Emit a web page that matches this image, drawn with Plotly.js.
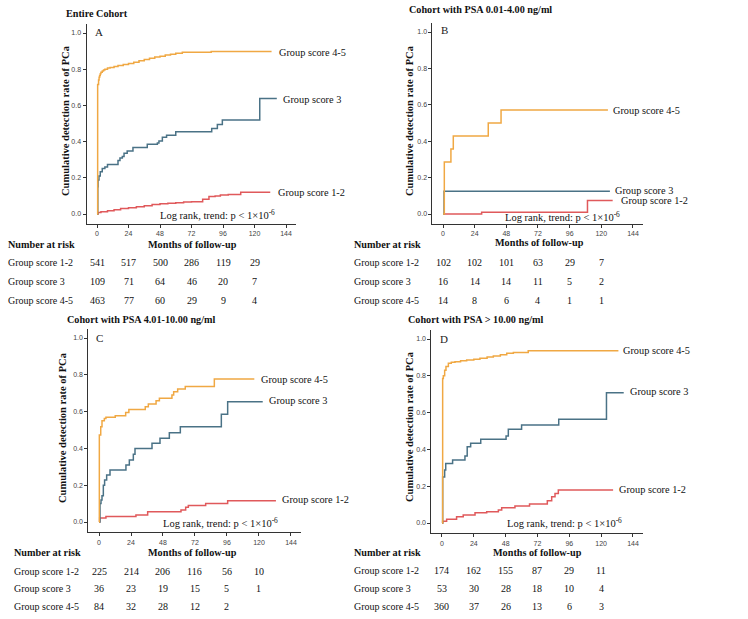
<!DOCTYPE html>
<html>
<head>
<meta charset="utf-8">
<script src="https://cdn.plot.ly/plotly-3.0.1.min.js"></script>
<style>html,body{margin:0;padding:0;background:#fff;}#chart{width:748px;height:619px;}</style>
</head>
<body>
<div id="chart"></div>
<script>
// ---------- DATA ----------
const groups = ['Group score 1-2', 'Group score 3', 'Group score 4-5'];
const riskTimes = [0, 24, 48, 72, 96, 120];
const xTicks = [0, 24, 48, 72, 96, 120, 144];
const yTicks = [0, 0.2, 0.4, 0.6, 0.8, 1.0];
const panelTitles = ['Entire Cohort', 'Cohort with PSA 0.01-4.00 ng/ml', 'Cohort with PSA 4.01-10.00 ng/ml', 'Cohort with PSA > 10.00 ng/ml'];
const panelLetters = ['A', 'B', 'C', 'D'];

// Panel A (entire cohort)
const A_g12_t = [0, 0.8, 3, 8, 13, 18, 24, 30, 36, 42, 48, 54, 60, 66, 72, 80.5, 85.3, 90, 94, 100, 109.5, 132];
const A_g12_p = [0, 0.008, 0.012, 0.018, 0.024, 0.03, 0.035, 0.04, 0.046, 0.052, 0.056, 0.059, 0.062, 0.066, 0.068, 0.081, 0.096, 0.1, 0.105, 0.108, 0.12, 0.12];
const A_g3_t = [0, 0.6, 0.8, 1.5, 2.5, 4, 6, 8, 16, 17.5, 19.3, 20.6, 23, 27.4, 38.3, 46, 47.2, 49.8, 53, 60, 87.4, 91.7, 95.5, 124, 137];
const A_g3_p = [0, 0.15, 0.188, 0.21, 0.234, 0.252, 0.26, 0.274, 0.295, 0.31, 0.317, 0.335, 0.348, 0.368, 0.385, 0.392, 0.403, 0.424, 0.435, 0.455, 0.473, 0.494, 0.519, 0.638, 0.638];
const A_g45_t = [0, 0.5, 1.2, 1.6, 2, 2.5, 3, 4, 5, 6, 8, 10, 13, 16, 20, 24, 28, 32, 36, 40, 44, 48, 52, 56, 60, 65, 87, 133];
const A_g45_p = [0, 0.716, 0.74, 0.755, 0.765, 0.775, 0.783, 0.79, 0.796, 0.8, 0.806, 0.81, 0.815, 0.82, 0.826, 0.832, 0.838, 0.846, 0.853, 0.861, 0.867, 0.872, 0.878, 0.883, 0.888, 0.894, 0.898, 0.898];

// Panel B (PSA 0.01-4.00)
const B_g12_t = [0.8, 29.3, 109.5, 128.6];
const B_g12_p = [0, 0.0098, 0.074, 0.074];
const B_g3_t = [0, 0.8, 126.5];
const B_g3_p = [0, 0.125, 0.125];
const B_g45_t = [0, 1, 6, 7.8, 34.3, 44, 125];
const B_g45_p = [0, 0.286, 0.357, 0.429, 0.5, 0.571, 0.571];

// Panel C (PSA 4.01-10.00)
const C_g12_t = [0, 0.5, 5.2, 27.7, 36.5, 61.5, 65, 67, 80, 96.5, 132.7];
const C_g12_p = [0, 0.022, 0.03, 0.038, 0.056, 0.065, 0.08, 0.089, 0.1, 0.116, 0.116];
const C_g3_t = [0, 0.75, 1.5, 2.25, 3.25, 4.2, 5.75, 8.25, 20.2, 22.75, 25.75, 27, 39.75, 45.75, 52.75, 61, 91.75, 96.5, 122.8];
const C_g3_p = [0, 0.1, 0.12, 0.143, 0.2, 0.228, 0.255, 0.283, 0.31, 0.337, 0.368, 0.4, 0.428, 0.455, 0.485, 0.518, 0.585, 0.654, 0.654];
const C_g45_t = [0, 0.25, 1.3, 2.25, 4, 5.2, 12.2, 20, 22.4, 34.7, 37, 42.8, 45.3, 54.7, 56, 59, 64.7, 86.5, 116.5];
const C_g45_p = [0, 0.473, 0.518, 0.55, 0.563, 0.569, 0.578, 0.595, 0.612, 0.627, 0.641, 0.659, 0.672, 0.69, 0.708, 0.723, 0.737, 0.777, 0.777];

// Panel D (PSA > 10.00)
const D_g12_t = [0, 0.5, 3.5, 11, 16, 24.9, 33.7, 42.5, 45, 55, 66, 79.4, 82.7, 85.2, 87.7, 129];
const D_g12_p = [0, 0.01, 0.02, 0.034, 0.043, 0.056, 0.061, 0.07, 0.083, 0.092, 0.103, 0.121, 0.143, 0.161, 0.179, 0.179];
const D_g3_t = [0, 0.5, 2, 2.8, 8, 17.3, 19, 21.6, 29.2, 48.3, 50, 60, 88, 124, 137];
const D_g3_p = [0, 0.25, 0.288, 0.324, 0.342, 0.364, 0.415, 0.433, 0.455, 0.473, 0.509, 0.533, 0.564, 0.708, 0.708];
const D_g45_t = [0, 0.5, 1, 2, 3, 4.8, 7, 9.8, 14, 18.6, 24, 28.6, 34, 38.7, 44, 48.8, 53.8, 65, 133];
const D_g45_p = [0, 0.786, 0.8, 0.83, 0.85, 0.868, 0.873, 0.877, 0.882, 0.886, 0.89, 0.895, 0.902, 0.908, 0.915, 0.922, 0.927, 0.936, 0.936];

// Number at risk
const A_risk_g12 = [541, 517, 500, 286, 119, 29];
const A_risk_g3 = [109, 71, 64, 46, 20, 7];
const A_risk_g45 = [463, 77, 60, 29, 9, 4];
const B_risk_g12 = [102, 102, 101, 63, 29, 7];
const B_risk_g3 = [16, 14, 14, 11, 5, 2];
const B_risk_g45 = [14, 8, 6, 4, 1, 1];
const C_risk_g12 = [225, 214, 206, 116, 56, 10];
const C_risk_g3 = [36, 23, 19, 15, 5, 1];
const C_risk_g45 = [84, 32, 28, 12, 2];
const D_risk_g12 = [174, 162, 155, 87, 29, 11];
const D_risk_g3 = [53, 30, 28, 18, 10, 4];
const D_risk_g45 = [360, 37, 26, 13, 6, 3];

// ---------- LAYOUT / STYLE ----------
const W = 748, H = 619;
const XR = [-8, 151.5], YR = [-0.055, 1.05];
const colors = ['#e0595b', '#4a7286', '#f0a843'];
const serif = 'Liberation Serif';
const sans = 'Liberation Sans';
function PX(x) { return x / W; }
function PY(y) { return 1 - y / H; }

// geometry per panel: pixel of month 0, px per month, pixel of y=0, px per unit
const geo = [
  {x0: 97, k: 1.3125, y0: 214, s: 181, title: [64, 13], letter: [93, 32], ytitle: [66, 121], xtitle: [192, 244],
   head: [6, 244], rows: [262, 281, 300], rowX: 6,
   labels: [[276, 192.3], [281, 99], [277, 52.3]], logrank: [217, 215]},
  {x0: 443, k: 1.3194, y0: 214, s: 182, title: [407, 10], letter: [439, 30], ytitle: [410, 121], xtitle: [539, 243],
   head: [352, 244], rows: [262, 281, 300], rowX: 352,
   labels: [[619, 201], [613, 190.5], [611, 110.7]], logrank: [562, 216.7]},
  {x0: 99, k: 1.3333, y0: 522, s: 184, title: [65, 319], letter: [94, 338], ytitle: [62, 428], xtitle: [193, 552],
   head: [12, 552], rows: [571, 588.5, 606], rowX: 12,
   labels: [[280, 499], [267, 400], [259, 380]], logrank: [220, 522.7]},
  {x0: 442, k: 1.3264, y0: 523, s: 184, title: [406, 319], letter: [438, 339], ytitle: [410, 427], xtitle: [537, 552],
   head: [352, 552], rows: [570, 588.5, 606], rowX: 352,
   labels: [[617, 489], [628, 391.7], [621, 350.7]], logrank: [564, 522.7]}
];

const series = [
  [[A_g12_t, A_g12_p], [A_g3_t, A_g3_p], [A_g45_t, A_g45_p]],
  [[B_g12_t, B_g12_p], [B_g3_t, B_g3_p], [B_g45_t, B_g45_p]],
  [[C_g12_t, C_g12_p], [C_g3_t, C_g3_p], [C_g45_t, C_g45_p]],
  [[D_g12_t, D_g12_p], [D_g3_t, D_g3_p], [D_g45_t, D_g45_p]]
];
const risks = [
  [A_risk_g12, A_risk_g3, A_risk_g45],
  [B_risk_g12, B_risk_g3, B_risk_g45],
  [C_risk_g12, C_risk_g3, C_risk_g45],
  [D_risk_g12, D_risk_g3, D_risk_g45]
];

const data = [];
const layout = {
  width: W, height: H, autosize: false,
  margin: {l: 0, r: 0, t: 0, b: 0, pad: 0},
  paper_bgcolor: '#ffffff', plot_bgcolor: 'rgba(0,0,0,0)',
  showlegend: false,
  annotations: []
};

function ann(text, x, y, opts) {
  layout.annotations.push(Object.assign({
    text: text, x: PX(x), y: PY(y), xref: 'paper', yref: 'paper',
    showarrow: false, xanchor: 'left', yanchor: 'middle',
    font: {family: serif, size: 10.5, color: '#111'}
  }, opts || {}));
}

geo.forEach((g, i) => {
  const n = i + 1;
  const xa = 'xaxis' + (n === 1 ? '' : n), ya = 'yaxis' + (n === 1 ? '' : n);
  const xr = 'x' + (n === 1 ? '' : n), yr = 'y' + (n === 1 ? '' : n);
  const left = g.x0 + XR[0] * g.k, right = g.x0 + XR[1] * g.k;
  const bottom = g.y0 - YR[0] * g.s, top = g.y0 - YR[1] * g.s;
  layout[xa] = {
    domain: [PX(left), PX(right)], range: XR, anchor: yr,
    tickvals: xTicks, ticktext: xTicks.map(String), ticks: 'outside', ticklen: 3, tickwidth: 1,
    tickcolor: '#333', showline: true, linecolor: '#333', linewidth: 1,
    showgrid: false, zeroline: false, fixedrange: true,
    tickfont: {family: sans, size: 7, color: '#444'}
  };
  layout[ya] = {
    domain: [PY(bottom), PY(top)], range: YR, anchor: xr,
    tickvals: yTicks, tickformat: '.1f', ticks: 'outside', ticklen: 3, tickwidth: 1,
    tickcolor: '#333', showline: true, linecolor: '#333', linewidth: 1,
    showgrid: false, zeroline: false, fixedrange: true,
    tickfont: {family: sans, size: 7, color: '#444'}
  };
  series[i].forEach((s, j) => {
    data.push({
      type: 'scatter', mode: 'lines', x: s[0], y: s[1], xaxis: xr, yaxis: yr,
      line: {color: colors[j], width: 1.5, shape: 'hv'}, hoverinfo: 'skip', name: groups[j]
    });
  });
  // texts
  ann('<b>' + panelTitles[i].replace('>', '&gt;') + '</b>', g.title[0], g.title[1], {font: {family: serif, size: 10.2, color: '#111'}});
  ann(panelLetters[i], g.letter[0], g.letter[1], {font: {family: serif, size: 11, color: '#222'}});
  ann('<b>Cumulative detection rate of PCa</b>', g.ytitle[0], g.ytitle[1], {xanchor: 'center', textangle: -90, font: {family: serif, size: 10.5, color: '#111'}});
  ann('<b>Months of follow-up</b>', g.xtitle[0], g.xtitle[1], {xanchor: 'center', font: {family: serif, size: 10.2, color: '#111'}});
  ann('<b>Number at risk</b>', g.head[0], g.head[1], {font: {family: serif, size: 10.2, color: '#111'}});
  ann('Log rank, trend: p &lt; 1×10<sup>-6</sup>', g.logrank[0], g.logrank[1], {xanchor: 'center'});
  groups.forEach((name, j) => {
    ann(name, g.labels[j][0], g.labels[j][1], {font: {family: serif, size: 10.3, color: '#111'}});
    ann(name, g.rowX, g.rows[j], {font: {family: serif, size: 10, color: '#111'}});
    risks[i][j].forEach((v, m) => {
      layout.annotations.push({
        text: String(v), x: riskTimes[m], y: PY(g.rows[j]), xref: xr, yref: 'paper',
        showarrow: false, xanchor: 'center', yanchor: 'middle',
        font: {family: serif, size: 10, color: '#111'}
      });
    });
  });
});

Plotly.newPlot('chart', data, layout, {displayModeBar: false, staticPlot: true});
</script>
</body>
</html>
